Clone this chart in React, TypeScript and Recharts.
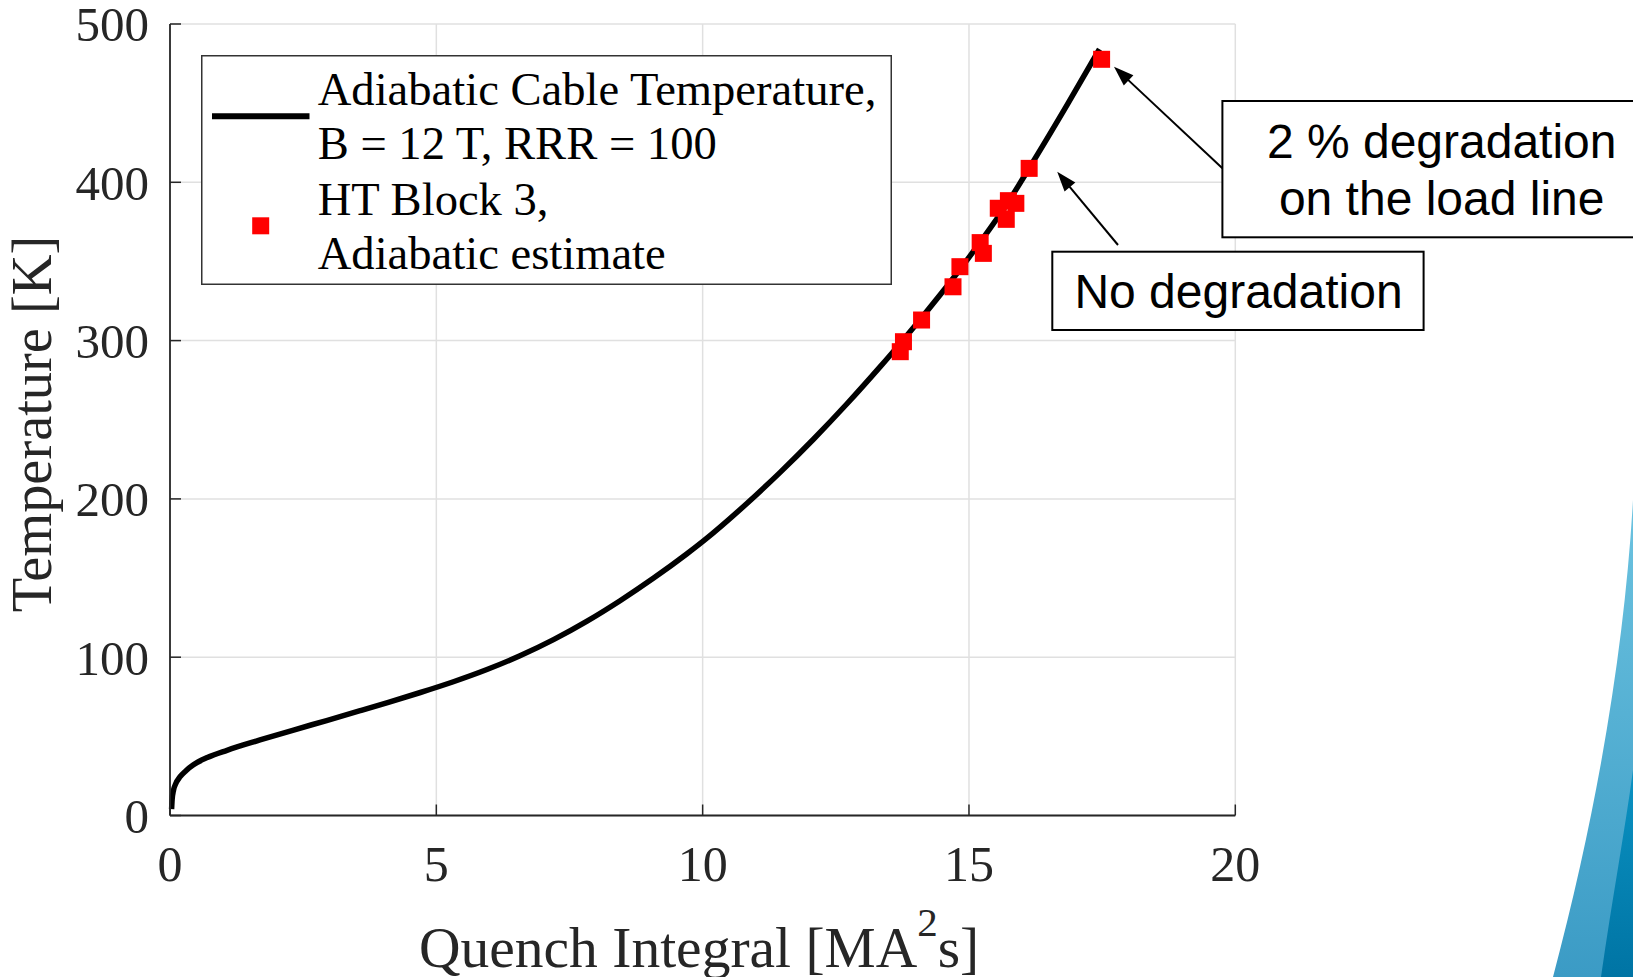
import React from 'react';
import { ComposedChart, Line, Scatter, XAxis, YAxis, CartesianGrid, Legend } from 'recharts';

// Adiabatic cable temperature curve (B = 12 T, RRR = 100)
const curveQ = [0.03, 0.04, 0.066, 0.1, 0.19, 0.3, 0.44, 0.7, 1.07, 1.69, 2.32, 2.94, 3.57, 4.1, 4.7, 5.32, 5.95, 6.57, 7.2, 7.83, 8.45, 9.08, 9.7, 10.01, 10.83, 11.45, 12.08, 12.71, 13.33, 13.71, 14.11, 14.7, 15.21, 15.7, 16.13, 16.84, 17.45];
const curveT = [4, 10, 16, 19.5, 24.5, 28.3, 32, 36.6, 41.2, 47.7, 54, 60, 66.2, 71.5, 77.7, 84.5, 92.2, 100.9, 111.1, 122.8, 135.7, 150, 165.2, 173.3, 197.1, 216.6, 237.7, 260.1, 283.4, 298.2, 314.4, 339.2, 362.2, 385.7, 408.9, 448.7, 484.1];

// HT Block 3, adiabatic estimate
const blockQ = [13.71, 13.77, 14.11, 14.7, 14.83, 15.21, 15.27, 15.55, 15.7, 15.74, 15.88, 16.13, 17.49];
const blockT = [293, 299.3, 313, 334, 346.7, 361.9, 355.1, 383.6, 376.6, 388.4, 386.7, 408.8, 477.7];

const xTicks = [0, 5, 10, 15, 20];
const yTicks = [0, 100, 200, 300, 400, 500];

const legendLines = ['Adiabatic Cable Temperature,', 'B = 12 T, RRR = 100', 'HT Block 3,', 'Adiabatic estimate'];
const noteNoDeg = 'No degradation';
const noteDeg = ['2 % degradation', 'on the load line'];

const curveData = curveQ.map((x, i) => ({ x, y: curveT[i] }));
const blockData = blockQ.map((x, i) => ({ x, y: blockT[i] }));

const SERIF = '"Liberation Serif", "Times New Roman", serif';
const SANS = '"Liberation Sans", Arial, sans-serif';
const AX = '#262626';

const Square = (props: any) => {
  const { cx, cy } = props;
  if (cx == null || cy == null) return null;
  return <rect x={cx - 8.5} y={cy - 8.5} width={17} height={17} fill="#ff0000" />;
};

const renderLegend = () => (
  <svg width={691} height={230} style={{ display: 'block' }}>
    <rect x={0.75} y={0.75} width={689.5} height={228.5} fill="#fff" stroke="#333" strokeWidth={1.5} />
    <line x1={11} x2={108.5} y1={61.3} y2={61.3} stroke="#000" strokeWidth={6} />
    <rect x={51.2} y={162.3} width={17} height={17} fill="#ff0000" />
    <text fontFamily={SERIF} fontSize={46.6} fill="#000">
      <tspan x={116.7} y={50}>{legendLines[0]}</tspan>
      <tspan x={116.7} y={104.3}>{legendLines[1]}</tspan>
      <tspan x={116.7} y={160}>{legendLines[2]}</tspan>
      <tspan x={116.7} y={214.3}>{legendLines[3]}</tspan>
    </text>
  </svg>
);

function arrowHead(x1: number, y1: number, x2: number, y2: number, len = 20, half = 7) {
  const dx = x2 - x1, dy = y2 - y1;
  const L = Math.hypot(dx, dy);
  const ux = dx / L, uy = dy / L;
  const bx = x2 - ux * len, by = y2 - uy * len;
  const nx = -uy, ny = ux;
  return `${x2},${y2} ${bx + nx * half},${by + ny * half} ${bx - nx * half},${by - ny * half}`;
}

const Arrow = ({ x1, y1, x2, y2 }: { x1: number; y1: number; x2: number; y2: number }) => {
  const L = Math.hypot(x2 - x1, y2 - y1);
  const ex = x2 - ((x2 - x1) / L) * 16, ey = y2 - ((y2 - y1) / L) * 16;
  return (
    <g>
      <line x1={x1} y1={y1} x2={ex} y2={ey} stroke="#000" strokeWidth={2} />
      <polygon points={arrowHead(x1, y1, x2, y2)} fill="#000" />
    </g>
  );
};

const XLabel = (props: any) => {
  const vb = props.viewBox || { x: 170, y: 815.5, width: 1065.5, height: 161.5 };
  const cx = vb.x + vb.width / 2 - 3.5;
  const by = vb.y + 151;
  return (
    <text x={cx} y={by} textAnchor="middle" fontFamily={SERIF} fontSize={57.5} fill={AX}>
      Quench Integral [MA
      <tspan fontSize={41} dy={-31}>2</tspan>
      <tspan dy={31}>s]</tspan>
    </text>
  );
};

const YLabel = () => (
  <text x={51.2} y={424} transform="rotate(-90 51.2 424)" textAnchor="middle" fontFamily={SERIF} fontSize={56.4} fill={AX}>
    Temperature [K]
  </text>
);

export default function App() {
  return (
    <div style={{ position: 'absolute', left: 0, top: 0, width: 1633, height: 977, background: '#fff', overflow: 'hidden' }}>
      <ComposedChart width={1633} height={977} margin={{ top: 24, right: 397.7, bottom: 0, left: 0 }}>
        <CartesianGrid stroke="#e0e0e0" strokeWidth={1.5} />
        <XAxis
          dataKey="x"
          type="number"
          domain={[0, 20]}
          ticks={xTicks}
          height={161.5}
          tickSize={-11}
          tickMargin={41}
          axisLine={{ stroke: AX, strokeWidth: 1.8 }}
          tickLine={{ stroke: AX, strokeWidth: 1.5 }}
          tick={{ fontFamily: SERIF, fontSize: 50, fill: AX }}
          label={<XLabel />}
          interval={0}
        />
        <XAxis
          xAxisId="top"
          orientation="top"
          type="number"
          domain={[0, 20]}
          ticks={xTicks}
          height={0}
          tickSize={-11}
          tick={false}
          axisLine={{ stroke: AX, strokeWidth: 1.8 }}
          tickLine={{ stroke: AX, strokeWidth: 1.5 }}
          interval={0}
        />
        <YAxis
          dataKey="y"
          type="number"
          domain={[0, 500]}
          ticks={yTicks}
          width={170}
          tickSize={-11}
          tickMargin={32}
          axisLine={{ stroke: AX, strokeWidth: 1.8 }}
          tickLine={{ stroke: AX, strokeWidth: 1.5 }}
          tick={{ fontFamily: SERIF, fontSize: 49, fill: AX }}
          label={<YLabel />}
          interval={0}
        />
        <YAxis
          yAxisId="right"
          orientation="right"
          type="number"
          domain={[0, 500]}
          ticks={yTicks}
          width={0}
          tickSize={-11}
          tick={false}
          axisLine={{ stroke: AX, strokeWidth: 1.8 }}
          tickLine={{ stroke: AX, strokeWidth: 1.5 }}
          interval={0}
        />
        <Legend
          layout="vertical"
          align="center"
          verticalAlign="middle"
          content={renderLegend}
          wrapperStyle={{ left: 201, top: 55, width: 691, height: 230, margin: 0, padding: 0 }}
        />
        <Line
          data={curveData}
          dataKey="y"
          name={legendLines[0]}
          type="monotone"
          stroke="#000"
          strokeWidth={5.5}
          dot={false}
          activeDot={false}
          isAnimationActive={false}
        />
        <Scatter
          data={blockData}
          dataKey="y"
          name={legendLines[2]}
          fill="#ff0000"
          shape={Square}
          isAnimationActive={false}
        />
      </ComposedChart>
      <svg width={1633} height={977} style={{ position: 'absolute', left: 0, top: 0, pointerEvents: 'none' }}>
        <defs>
          <linearGradient id="swLight" x1="0" y1="0" x2="0" y2="1">
            <stop offset="0" stopColor="#6cc3e0" />
            <stop offset="1" stopColor="#3b9bc5" />
          </linearGradient>
          <linearGradient id="swDark" x1="0" y1="0" x2="0" y2="1">
            <stop offset="0" stopColor="#0a92c2" />
            <stop offset="1" stopColor="#0074a4" />
          </linearGradient>
        </defs>
        <path d="M 1633 500 C 1625 640, 1600 800, 1553 977 L 1633 977 Z" fill="url(#swLight)" />
        <path d="M 1633 770 C 1625 830, 1612 900, 1601 977 L 1633 977 Z" fill="url(#swDark)" />

        <Arrow x1={1222.4} y1={168.3} x2={1114} y2={66.7} />
        <Arrow x1={1118} y1={245} x2={1057.2} y2={171.7} />

        <rect x={1222.4} y={101} width={430} height={136.3} fill="#fff" stroke="#000" strokeWidth={2} />
        <text fontFamily={SANS} fontSize={48} fill="#000" textAnchor="middle">
          <tspan x={1441.7} y={158.3}>{noteDeg[0]}</tspan>
          <tspan x={1441.7} y={215}>{noteDeg[1]}</tspan>
        </text>

        <rect x={1052.3} y={251.7} width={371.3} height={78.3} fill="#fff" stroke="#000" strokeWidth={2} />
        <text x={1238.5} y={308.3} fontFamily={SANS} fontSize={48} fill="#000" textAnchor="middle">
          {noteNoDeg}
        </text>
      </svg>
    </div>
  );
}
